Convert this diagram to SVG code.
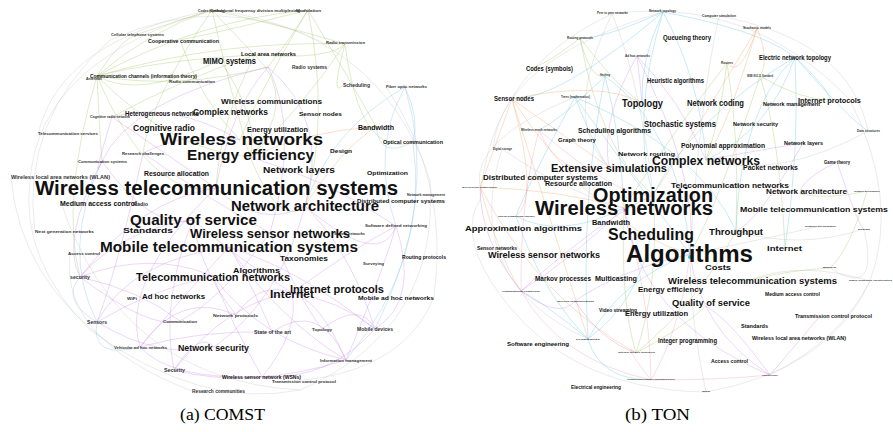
<svg xmlns="http://www.w3.org/2000/svg" width="893" height="432" viewBox="0 0 893 432">
<style>
text{font-family:"Liberation Sans",Arial,Helvetica,sans-serif;font-weight:bold;fill:#111}
.sm{fill:#333}
.cap{font-family:"Liberation Serif","Times New Roman",serif;font-weight:normal;fill:#000}
path{fill:none;stroke-width:0.6}
.h{stroke:#cfcfcf;stroke-opacity:.7}
.g{stroke:#9cc25a;stroke-opacity:.55}
.p{stroke:#c884e6;stroke-opacity:.55}
.b{stroke:#86c2e6;stroke-opacity:.6}
.o{stroke:#f0a060;stroke-opacity:.55}
.c{stroke:#46bde0;stroke-opacity:.5}
.k{stroke:#ee8aa8;stroke-opacity:.5}
.y{stroke:#b8b8b8;stroke-opacity:.5}
</style>
<rect width="893" height="432" fill="#fff"/>
<g id="connectors">
<!-- left hull -->
<path class="h" d="M30 180 Q40 60 212 10"/>
<path class="h" d="M212 10 Q380 30 430 180"/>
<path class="h" d="M430 180 Q440 330 300 390"/>
<path class="h" d="M300 390 Q200 410 90 330"/>
<path class="h" d="M90 330 Q20 260 30 180"/>
<path class="h" d="M38 134 Q60 40 212 10"/>
<path class="h" d="M35 232 Q20 120 110 40"/>
<path class="h" d="M70 254 Q60 340 192 391"/>
<path class="h" d="M110 40 Q220 -10 326 44"/>
<path class="h" d="M386 87 Q450 180 434 297"/>
<path class="h" d="M434 297 Q400 380 272 382"/>
<path class="h" d="M11 178 Q20 280 114 347"/>
<path class="h" d="M60 200 Q120 380 300 390"/>
<!-- left green -->
<path class="g" d="M97 76 Q150 30 212 10"/>
<path class="g" d="M97 76 Q160 60 255 55"/>
<path class="g" d="M97 76 Q180 90 268 67"/>
<path class="g" d="M97 76 Q200 20 308 10"/>
<path class="g" d="M97 76 Q220 40 345 44"/>
<path class="g" d="M97 76 Q120 40 138 34"/>
<path class="g" d="M97 76 Q140 100 220 60"/>
<path class="g" d="M97 76 Q170 150 250 157"/>
<path class="g" d="M97 76 Q150 200 216 188"/>
<path class="g" d="M97 76 Q60 200 80 277"/>
<path class="g" d="M212 10 Q240 40 255 55"/>
<path class="g" d="M212 10 Q300 30 345 44"/>
<path class="g" d="M212 10 Q230 90 250 157"/>
<path class="g" d="M308 10 Q290 40 268 67"/>
<path class="g" d="M308 10 Q350 80 376 127"/>
<path class="g" d="M308 10 Q260 90 240 140"/>
<path class="g" d="M255 55 Q300 100 250 157"/>
<path class="g" d="M255 55 Q180 80 112 117"/>
<path class="g" d="M255 55 Q330 60 345 44"/>
<path class="g" d="M255 55 Q220 120 216 188"/>
<path class="g" d="M345 44 Q330 100 343 85"/>
<path class="g" d="M345 44 Q360 160 413 142"/>
<path class="g" d="M345 44 Q300 110 250 157"/>
<path class="g" d="M180 40 Q230 30 308 10"/>
<path class="g" d="M180 40 Q200 100 240 140"/>
<path class="g" d="M220 60 Q260 120 250 157"/>
<path class="g" d="M138 34 Q180 20 212 10"/>
<path class="g" d="M250 157 Q280 230 305 206"/>
<path class="g" d="M212 10 Q150 100 143 153"/>
<path class="g" d="M308 10 Q330 120 305 206"/>
<path class="g" d="M97 76 Q100 140 102 161"/>
<!-- left purple -->
<path class="p" d="M268 67 Q330 120 305 206"/>
<path class="p" d="M112 117 Q170 100 240 140"/>
<path class="p" d="M112 117 Q160 150 216 188"/>
<path class="p" d="M112 117 Q90 190 102 161"/>
<path class="p" d="M143 153 Q190 130 240 140"/>
<path class="p" d="M143 153 Q210 200 270 233"/>
<path class="p" d="M102 161 Q150 230 193 220"/>
<path class="p" d="M102 161 Q130 100 268 67"/>
<path class="p" d="M80 277 Q150 250 213 276"/>
<path class="p" d="M80 277 Q150 330 180 321"/>
<path class="p" d="M80 277 Q140 200 216 188"/>
<path class="p" d="M97 322 Q150 290 213 276"/>
<path class="p" d="M97 322 Q160 360 214 347"/>
<path class="p" d="M140 347 Q180 300 229 247"/>
<path class="p" d="M140 347 Q170 380 262 377"/>
<path class="p" d="M140 347 Q200 330 272 332"/>
<path class="p" d="M174 370 Q200 330 214 347"/>
<path class="p" d="M174 370 Q230 300 292 293"/>
<path class="p" d="M174 370 Q250 390 346 360"/>
<path class="p" d="M346 360 Q320 300 292 293"/>
<path class="p" d="M346 360 Q280 320 229 247"/>
<path class="p" d="M375 329 Q340 300 292 293"/>
<path class="p" d="M375 329 Q350 250 305 206"/>
<path class="p" d="M375 329 Q330 380 262 377"/>
<path class="p" d="M322 329 Q300 300 270 233"/>
<path class="p" d="M396 226 Q350 250 292 293"/>
<path class="p" d="M396 226 Q330 180 250 157"/>
<path class="p" d="M396 226 Q420 300 375 329"/>
<path class="p" d="M236 315 Q260 280 292 293"/>
<path class="p" d="M236 315 Q200 270 193 220"/>
<path class="p" d="M180 321 Q220 300 270 233"/>
<path class="p" d="M262 377 Q230 320 213 276"/>
<path class="p" d="M272 332 Q250 280 229 247"/>
<path class="p" d="M268 67 Q230 110 216 188"/>
<path class="p" d="M268 67 Q300 130 270 233"/>
<path class="p" d="M193 220 Q240 260 292 293"/>
<path class="p" d="M216 188 Q260 230 305 206"/>
<path class="p" d="M229 247 Q300 270 375 329"/>
<path class="p" d="M213 276 Q260 340 346 360"/>
<path class="p" d="M305 206 Q380 270 396 226"/>
<path class="p" d="M80 277 Q120 230 193 220"/>
<path class="p" d="M97 322 Q130 260 229 247"/>
<path class="p" d="M140 347 Q120 280 216 188"/>
<path class="p" d="M174 370 Q160 300 193 220"/>
<path class="p" d="M262 377 Q300 330 292 293"/>
<path class="p" d="M346 360 Q380 280 396 226"/>
<path class="p" d="M322 329 Q360 300 375 329"/>
<path class="p" d="M236 315 Q180 290 140 347"/>
<path class="p" d="M180 321 Q140 290 80 277"/>
<path class="p" d="M272 332 Q320 300 346 360"/>
<path class="p" d="M214 347 Q280 300 305 206"/>
<path class="p" d="M102 161 Q60 240 80 277"/>
<path class="p" d="M143 153 Q120 260 97 322"/>
<!-- left blue / orange -->
<path class="b" d="M405 87 Q420 120 413 142"/>
<path class="b" d="M405 87 Q370 150 396 226"/>
<path class="b" d="M405 87 Q330 130 305 206"/>
<path class="b" d="M405 87 Q440 200 375 329"/>
<path class="b" d="M413 142 Q430 260 346 360"/>
<path class="b" d="M97 322 Q90 360 140 347"/>
<path class="b" d="M80 277 Q60 300 97 322"/>
<path class="b" d="M413 142 Q380 160 376 127"/>
<path class="b" d="M97 322 Q60 250 102 161"/>
<path class="o" d="M376 127 Q340 150 305 206"/>
<path class="o" d="M376 127 Q310 130 250 157"/>
<!-- right hull -->
<path class="h" d="M480 200 Q490 70 612 14"/>
<path class="h" d="M612 14 Q750 -5 850 100"/>
<path class="h" d="M850 100 Q900 200 870 281"/>
<path class="h" d="M870 281 Q830 370 706 392"/>
<path class="h" d="M706 392 Q560 390 490 280"/>
<path class="h" d="M490 280 Q460 230 480 200"/>
<path class="h" d="M493 150 Q500 60 663 12"/>
<path class="h" d="M719 16 Q850 40 868 131"/>
<path class="h" d="M502 149 Q460 280 588 339"/>
<path class="h" d="M575 97 Q470 140 480 187"/>
<path class="h" d="M870 281 Q840 340 770 375"/>
<path class="h" d="M864 229 Q880 300 830 268"/>
<!-- right cyan -->
<path class="c" d="M663 12 Q640 60 642 103"/>
<path class="c" d="M663 12 Q700 80 706 160"/>
<path class="c" d="M663 12 Q600 40 580 38"/>
<path class="c" d="M663 12 Q760 30 795 57"/>
<path class="c" d="M663 12 Q630 120 653 195"/>
<path class="c" d="M605 76 Q620 130 624 208"/>
<path class="c" d="M605 76 Q680 130 690 254"/>
<path class="c" d="M605 76 Q560 120 539 130"/>
<path class="c" d="M575 97 Q600 160 609 167"/>
<path class="c" d="M575 97 Q530 180 516 216"/>
<path class="c" d="M575 97 Q650 200 690 254"/>
<path class="c" d="M795 57 Q770 130 706 160"/>
<path class="c" d="M795 57 Q830 90 830 100"/>
<path class="c" d="M795 57 Q740 110 736 231"/>
<path class="c" d="M795 57 Q850 120 868 131"/>
<path class="c" d="M588 339 Q620 280 690 254"/>
<path class="c" d="M588 339 Q540 300 521 291"/>
<path class="c" d="M588 339 Q640 300 651 233"/>
<path class="c" d="M588 339 Q600 380 651 380"/>
<path class="c" d="M516 216 Q560 240 624 208"/>
<path class="c" d="M516 216 Q540 290 588 339"/>
<path class="c" d="M795 57 Q800 150 785 248"/>
<path class="c" d="M795 57 Q690 120 653 195"/>
<path class="c" d="M605 76 Q580 200 588 339"/>
<path class="c" d="M663 12 Q560 100 512 99"/>
<path class="c" d="M575 97 Q700 150 736 231"/>
<!-- right orange -->
<path class="o" d="M512 99 Q540 200 516 216"/>
<path class="o" d="M512 99 Q490 160 480 187"/>
<path class="o" d="M512 99 Q560 250 588 339"/>
<path class="o" d="M512 99 Q570 140 609 167"/>
<path class="o" d="M512 99 Q600 80 642 103"/>
<path class="o" d="M757 28 Q770 60 760 76"/>
<path class="o" d="M757 28 Q740 80 727 63"/>
<path class="o" d="M757 28 Q730 120 706 160"/>
<path class="o" d="M480 187 Q500 260 521 291"/>
<path class="o" d="M480 187 Q560 190 624 208"/>
<path class="o" d="M512 99 Q600 230 690 254"/>
<path class="o" d="M757 28 Q690 140 653 195"/>
<path class="o" d="M480 187 Q540 300 636 353"/>
<!-- right green -->
<path class="g" d="M580 38 Q590 80 605 76"/>
<path class="g" d="M580 38 Q620 90 642 103"/>
<path class="g" d="M580 38 Q540 70 526 68"/>
<path class="g" d="M727 63 Q720 120 706 160"/>
<path class="g" d="M727 63 Q740 140 736 231"/>
<path class="g" d="M760 76 Q780 140 785 248"/>
<path class="g" d="M760 76 Q800 100 830 100"/>
<path class="g" d="M636 353 Q620 300 624 208"/>
<path class="g" d="M636 353 Q680 330 706 306"/>
<path class="g" d="M636 353 Q700 300 736 231"/>
<path class="g" d="M830 268 Q790 270 750 280"/>
<path class="g" d="M867 191 Q830 200 800 194"/>
<path class="g" d="M867 191 Q850 250 830 268"/>
<path class="g" d="M580 38 Q600 150 653 195"/>
<path class="g" d="M727 63 Q660 150 624 208"/>
<path class="g" d="M760 76 Q720 200 690 254"/>
<path class="g" d="M636 353 Q660 280 653 195"/>
<!-- right purple -->
<path class="p" d="M637 56 Q640 80 642 103"/>
<path class="p" d="M637 56 Q680 100 706 160"/>
<path class="p" d="M637 56 Q600 120 609 167"/>
<path class="p" d="M521 291 Q570 260 624 208"/>
<path class="p" d="M521 291 Q560 320 575 301"/>
<path class="p" d="M521 291 Q480 240 480 187"/>
<path class="p" d="M575 301 Q620 270 690 254"/>
<path class="p" d="M575 301 Q600 340 636 353"/>
<path class="p" d="M770 375 Q730 320 706 306"/>
<path class="p" d="M770 375 Q800 340 820 316"/>
<path class="p" d="M770 375 Q700 330 690 254"/>
<path class="p" d="M803 143 Q760 150 706 160"/>
<path class="p" d="M837 162 Q800 180 800 194"/>
<path class="p" d="M837 162 Q860 230 864 229"/>
<path class="p" d="M637 56 Q700 180 690 254"/>
<path class="p" d="M521 291 Q600 220 653 195"/>
<path class="p" d="M803 143 Q760 220 736 231"/>
<path class="p" d="M770 375 Q640 320 624 208"/>
<!-- right pink / gray -->
<path class="k" d="M651 380 Q620 340 636 353"/>
<path class="k" d="M651 380 Q680 330 690 254"/>
<path class="k" d="M651 380 Q720 380 770 375"/>
<path class="k" d="M539 130 Q560 180 609 167"/>
<path class="k" d="M539 130 Q520 200 521 291"/>
<path class="k" d="M651 380 Q560 360 521 291"/>
<path class="k" d="M539 130 Q620 200 653 195"/>
<path class="k" d="M651 380 Q650 300 624 208"/>
<path class="y" d="M612 14 Q640 80 653 195"/>
<path class="y" d="M719 16 Q700 100 690 254"/>
<path class="y" d="M820 226 Q760 240 690 254"/>
<path class="y" d="M864 229 Q800 250 736 231"/>
<path class="y" d="M870 281 Q800 260 750 280"/>
<path class="y" d="M706 392 Q690 320 690 254"/>
<path class="y" d="M502 149 Q560 190 624 208"/>
<path class="y" d="M868 131 Q780 180 706 160"/>
<path class="y" d="M612 14 Q560 120 609 167"/>
</g>
<!-- LEFT PANEL NODES -->
<g id="a-codes"><text class="sm" x="198" y="11.5" font-size="4" textLength="27" lengthAdjust="spacingAndGlyphs">Codes (symbols)</text></g>
<g id="a-ofdm"><text class="sm" x="210" y="11.5" font-size="4" textLength="90" lengthAdjust="spacingAndGlyphs">Orthogonal frequency division multiplexing</text></g>
<g id="a-modulation"><text class="sm" x="296" y="11.5" font-size="4" textLength="25" lengthAdjust="spacingAndGlyphs">Modulation</text></g>
<g id="a-cellular"><text class="sm" x="111" y="36" font-size="4" textLength="53" lengthAdjust="spacingAndGlyphs">Cellular telephone systems</text></g>
<g id="a-coop"><text x="148" y="43" font-size="5.5" textLength="71" lengthAdjust="spacingAndGlyphs">Cooperative communication</text></g>
<g id="a-mimo"><text x="203" y="64" font-size="8.5" textLength="53" lengthAdjust="spacingAndGlyphs">MIMO systems</text></g>
<g id="a-lan"><text x="241" y="56" font-size="6" textLength="55" lengthAdjust="spacingAndGlyphs">Local area networks</text></g>
<g id="a-radiosys"><text class="sm" x="292" y="68.5" font-size="4.5" textLength="35" lengthAdjust="spacingAndGlyphs">Radio systems</text></g>
<g id="a-radiotx"><text class="sm" x="326" y="44" font-size="4" textLength="39" lengthAdjust="spacingAndGlyphs">Radio transmission</text></g>
<g id="a-commchan"><text x="90" y="77.5" font-size="5" textLength="107" lengthAdjust="spacingAndGlyphs">Communication channels (information theory)</text></g>
<g id="a-antennas"><text class="sm" x="86" y="79.5" font-size="4" textLength="16" lengthAdjust="spacingAndGlyphs">Antennas</text></g>
<g id="a-radiocomm"><text class="sm" x="169" y="82.5" font-size="4" textLength="46" lengthAdjust="spacingAndGlyphs">Radio communication</text></g>
<g id="a-scheduling"><text class="sm" x="343" y="86.5" font-size="4.5" textLength="27" lengthAdjust="spacingAndGlyphs">Scheduling</text></g>
<g id="a-fiber"><text class="sm" x="386" y="87.5" font-size="4" textLength="41" lengthAdjust="spacingAndGlyphs">Fiber optic networks</text></g>
<g id="a-wirelesscomm"><text x="221" y="104" font-size="8" textLength="101" lengthAdjust="spacingAndGlyphs">Wireless communications</text></g>
<g id="a-hetnet"><text x="125" y="115.5" font-size="7" textLength="74" lengthAdjust="spacingAndGlyphs">Heterogeneous networks</text></g>
<g id="a-complex"><text x="193" y="114.5" font-size="8.5" textLength="75" lengthAdjust="spacingAndGlyphs">Complex networks</text></g>
<g id="a-sensornodes"><text x="299" y="115.5" font-size="6" textLength="43" lengthAdjust="spacingAndGlyphs">Sensor nodes</text></g>
<g id="a-crn"><text class="sm" x="90" y="117.5" font-size="4" textLength="40" lengthAdjust="spacingAndGlyphs">Cognitive radio network</text></g>
<g id="a-telserv"><text class="sm" x="38" y="134.5" font-size="4" textLength="60" lengthAdjust="spacingAndGlyphs">Telecommunication services</text></g>
<g id="a-cogradio"><text x="133" y="131" font-size="8.5" textLength="62" lengthAdjust="spacingAndGlyphs">Cognitive radio</text></g>
<g id="a-energyutil"><text x="247" y="132" font-size="7" textLength="61" lengthAdjust="spacingAndGlyphs">Energy utilization</text></g>
<g id="a-bandwidth"><text x="358" y="130" font-size="7" textLength="36" lengthAdjust="spacingAndGlyphs">Bandwidth</text></g>
<g id="a-wirelessnet"><text x="160" y="145" font-size="16.5" textLength="163" lengthAdjust="spacingAndGlyphs">Wireless networks</text></g>
<g id="a-energyeff"><text x="187" y="159.5" font-size="14" textLength="127" lengthAdjust="spacingAndGlyphs">Energy efficiency</text></g>
<g id="a-design"><text x="330" y="153" font-size="5.5" textLength="22" lengthAdjust="spacingAndGlyphs">Design</text></g>
<g id="a-optcomm"><text x="383" y="144" font-size="5.5" textLength="60" lengthAdjust="spacingAndGlyphs">Optical communication</text></g>
<g id="a-netlayers"><text x="263" y="173" font-size="8.5" textLength="72" lengthAdjust="spacingAndGlyphs">Network layers</text></g>
<g id="a-optimization"><text x="367" y="175" font-size="5.5" textLength="41" lengthAdjust="spacingAndGlyphs">Optimization</text></g>
<g id="a-wts"><text x="35" y="195" font-size="20" textLength="363" lengthAdjust="spacingAndGlyphs">Wireless telecommunication systems</text></g>
<g id="a-netmgmt"><text class="sm" x="407" y="195.5" font-size="3.5" textLength="38" lengthAdjust="spacingAndGlyphs">Network management</text></g>
<g id="a-distcomp"><text x="357" y="203" font-size="5" textLength="88" lengthAdjust="spacingAndGlyphs">Distributed computer systems</text></g>
<g id="a-mac"><text x="60" y="205.5" font-size="6.5" textLength="77" lengthAdjust="spacingAndGlyphs">Medium access control</text></g>
<g id="a-radio"><text class="sm" x="133" y="205.5" font-size="4.5" textLength="15" lengthAdjust="spacingAndGlyphs">Radio</text></g>
<g id="a-netarch"><text x="231" y="211" font-size="14.5" textLength="148" lengthAdjust="spacingAndGlyphs">Network architecture</text></g>
<g id="a-resalloc"><text x="144" y="176" font-size="6.5" textLength="65" lengthAdjust="spacingAndGlyphs">Resource allocation</text></g>
<g id="a-research"><text class="sm" x="122" y="154.5" font-size="4" textLength="42" lengthAdjust="spacingAndGlyphs">Research challenges</text></g>
<g id="a-commsys"><text class="sm" x="78" y="162.5" font-size="4" textLength="49" lengthAdjust="spacingAndGlyphs">Communication systems</text></g>
<g id="a-wlan"><text class="sm" x="11" y="178.5" font-size="4.5" textLength="99" lengthAdjust="spacingAndGlyphs">Wireless local area networks (WLAN)</text></g>
<g id="a-qos"><text x="130" y="225" font-size="15" textLength="127" lengthAdjust="spacingAndGlyphs">Quality of service</text></g>
<g id="a-standards"><text x="123" y="233" font-size="8" textLength="50" lengthAdjust="spacingAndGlyphs">Standards</text></g>
<g id="a-sensornets"><text class="sm" x="334" y="234.5" font-size="3.5" textLength="31" lengthAdjust="spacingAndGlyphs">Sensor networks</text></g>
<g id="a-wsn"><text x="190" y="238" font-size="12" textLength="160" lengthAdjust="spacingAndGlyphs">Wireless sensor networks</text></g>
<g id="a-sdn"><text class="sm" x="365" y="226.5" font-size="3.5" textLength="62" lengthAdjust="spacingAndGlyphs">Software defined networking</text></g>
<g id="a-nextgen"><text class="sm" x="35" y="232.5" font-size="4" textLength="59" lengthAdjust="spacingAndGlyphs">Next generation networks</text></g>
<g id="a-mts"><text x="100" y="252" font-size="15" textLength="258" lengthAdjust="spacingAndGlyphs">Mobile telecommunication systems</text></g>
<g id="a-access"><text class="sm" x="68" y="254.5" font-size="4" textLength="32" lengthAdjust="spacingAndGlyphs">Access control</text></g>
<g id="a-taxonomies"><text x="280" y="261" font-size="7" textLength="48" lengthAdjust="spacingAndGlyphs">Taxonomies</text></g>
<g id="a-surveying"><text class="sm" x="363" y="264.5" font-size="3.5" textLength="21" lengthAdjust="spacingAndGlyphs">Surveying</text></g>
<g id="a-routing"><text x="402" y="258.5" font-size="5.5" textLength="44" lengthAdjust="spacingAndGlyphs">Routing protocols</text></g>
<g id="a-algorithms"><text x="233" y="273" font-size="8" textLength="47" lengthAdjust="spacingAndGlyphs">Algorithms</text></g>
<g id="a-telnet"><text x="136" y="281" font-size="11" textLength="154" lengthAdjust="spacingAndGlyphs">Telecommunication networks</text></g>
<g id="a-security-l"><text class="sm" x="70" y="278.5" font-size="4.5" textLength="20" lengthAdjust="spacingAndGlyphs">security</text></g>
<g id="a-inetproto"><text x="290" y="293" font-size="11.5" textLength="94" lengthAdjust="spacingAndGlyphs">Internet protocols</text></g>
<g id="a-internet"><text x="270" y="298" font-size="11.5" textLength="44" lengthAdjust="spacingAndGlyphs">Internet</text></g>
<g id="a-manet"><text x="358" y="299.5" font-size="6" textLength="76" lengthAdjust="spacingAndGlyphs">Mobile ad hoc networks</text></g>
<g id="a-wifi"><text class="sm" x="127" y="299.5" font-size="4" textLength="10" lengthAdjust="spacingAndGlyphs">WiFi</text></g>
<g id="a-adhoc"><text x="142" y="298.5" font-size="8" textLength="63" lengthAdjust="spacingAndGlyphs">Ad hoc networks</text></g>
<g id="a-netproto"><text class="sm" x="213" y="316.5" font-size="4" textLength="45" lengthAdjust="spacingAndGlyphs">Network protocols</text></g>
<g id="a-communication"><text class="sm" x="163" y="322.5" font-size="4" textLength="34" lengthAdjust="spacingAndGlyphs">Communication</text></g>
<g id="a-sensors"><text class="sm" x="87" y="323.5" font-size="4.5" textLength="20" lengthAdjust="spacingAndGlyphs">Sensors</text></g>
<g id="a-stateart"><text class="sm" x="254" y="333.5" font-size="4.5" textLength="37" lengthAdjust="spacingAndGlyphs">State of the art</text></g>
<g id="a-topology"><text class="sm" x="312" y="330.5" font-size="3.5" textLength="20" lengthAdjust="spacingAndGlyphs">Topology</text></g>
<g id="a-mobiledev"><text class="sm" x="357" y="330.5" font-size="4.5" textLength="36" lengthAdjust="spacingAndGlyphs">Mobile devices</text></g>
<g id="a-vanet"><text class="sm" x="114" y="348.5" font-size="4" textLength="53" lengthAdjust="spacingAndGlyphs">Vehicular ad hoc networks</text></g>
<g id="a-netsec"><text x="178" y="350.5" font-size="8.5" textLength="71" lengthAdjust="spacingAndGlyphs">Network security</text></g>
<g id="a-infomgmt"><text class="sm" x="320" y="361.5" font-size="3.5" textLength="52" lengthAdjust="spacingAndGlyphs">Information management</text></g>
<g id="a-security-b"><text class="sm" x="164" y="372" font-size="4.5" textLength="21" lengthAdjust="spacingAndGlyphs">Security</text></g>
<g id="a-wsns"><text x="222" y="378.5" font-size="4.5" textLength="79" lengthAdjust="spacingAndGlyphs">Wireless sensor network (WSNs)</text></g>
<g id="a-tcp"><text class="sm" x="272" y="382.5" font-size="4" textLength="64" lengthAdjust="spacingAndGlyphs">Transmission control protocol</text></g>
<g id="a-rescomm"><text class="sm" x="192" y="393" font-size="4.5" textLength="53" lengthAdjust="spacingAndGlyphs">Research communities</text></g>
<!-- RIGHT PANEL NODES -->
<g id="b-p2p"><text class="sm" x="597" y="14" font-size="3" textLength="31" lengthAdjust="spacingAndGlyphs">Peer to peer networks</text></g>
<g id="b-nettopo"><text class="sm" x="649" y="12" font-size="3" textLength="27" lengthAdjust="spacingAndGlyphs">Network topology</text></g>
<g id="b-compsim"><text class="sm" x="702" y="17" font-size="3" textLength="34" lengthAdjust="spacingAndGlyphs">Computer simulation</text></g>
<g id="b-stochmod"><text class="sm" x="743" y="29" font-size="3" textLength="28" lengthAdjust="spacingAndGlyphs">Stochastic models</text></g>
<g id="b-queue"><text x="663" y="39.5" font-size="7" textLength="48" lengthAdjust="spacingAndGlyphs">Queueing theory</text></g>
<g id="b-routing"><text class="sm" x="567" y="39" font-size="3" textLength="26" lengthAdjust="spacingAndGlyphs">Routing protocols</text></g>
<g id="b-codes"><text x="526" y="70.5" font-size="6.5" textLength="47" lengthAdjust="spacingAndGlyphs">Codes (symbols)</text></g>
<g id="b-adhoc"><text class="sm" x="625" y="57" font-size="3" textLength="25" lengthAdjust="spacingAndGlyphs">Ad hoc networks</text></g>
<g id="b-heuristic"><text x="647" y="82.5" font-size="6.5" textLength="57" lengthAdjust="spacingAndGlyphs">Heuristic algorithms</text></g>
<g id="b-electric"><text x="759" y="59.5" font-size="6.5" textLength="72" lengthAdjust="spacingAndGlyphs">Electric network topology</text></g>
<g id="b-routers"><text class="sm" x="721" y="64" font-size="3" textLength="12" lengthAdjust="spacingAndGlyphs">Routers</text></g>
<g id="b-ieee"><text class="sm" x="747" y="77" font-size="3" textLength="26" lengthAdjust="spacingAndGlyphs">IEEE 802.11 Standard</text></g>
<g id="b-hashing"><text class="sm" x="600" y="76" font-size="3" textLength="10" lengthAdjust="spacingAndGlyphs">Hashing</text></g>
<g id="b-sensornodes"><text x="494" y="100.5" font-size="6.5" textLength="40" lengthAdjust="spacingAndGlyphs">Sensor nodes</text></g>
<g id="b-trees"><text class="sm" x="561" y="98" font-size="3" textLength="29" lengthAdjust="spacingAndGlyphs">Trees (mathematics)</text></g>
<g id="b-topology"><text x="622" y="106.5" font-size="11" textLength="41" lengthAdjust="spacingAndGlyphs">Topology</text></g>
<g id="b-netcoding"><text x="687" y="105.5" font-size="9" textLength="57" lengthAdjust="spacingAndGlyphs">Network coding</text></g>
<g id="b-inetproto"><text x="798" y="102.5" font-size="8" textLength="63" lengthAdjust="spacingAndGlyphs">Internet protocols</text></g>
<g id="b-netmgmt"><text x="763" y="106" font-size="5.5" textLength="57" lengthAdjust="spacingAndGlyphs">Network management</text></g>
<g id="b-stochsys"><text x="644" y="127" font-size="9" textLength="72" lengthAdjust="spacingAndGlyphs">Stochastic systems</text></g>
<g id="b-netsec"><text x="733" y="125.5" font-size="5.5" textLength="45" lengthAdjust="spacingAndGlyphs">Network security</text></g>
<g id="b-datastruct"><text class="sm" x="857" y="132" font-size="3" textLength="23" lengthAdjust="spacingAndGlyphs">Data structures</text></g>
<g id="b-mesh"><text class="sm" x="521" y="131" font-size="3" textLength="36" lengthAdjust="spacingAndGlyphs">Wireless mesh networks</text></g>
<g id="b-schedalg"><text x="578" y="133" font-size="7" textLength="73" lengthAdjust="spacingAndGlyphs">Scheduling algorithms</text></g>
<g id="b-graph"><text x="558" y="142" font-size="5.5" textLength="38" lengthAdjust="spacingAndGlyphs">Graph theory</text></g>
<g id="b-digital"><text class="sm" x="493" y="150" font-size="3" textLength="19" lengthAdjust="spacingAndGlyphs">Digital storage</text></g>
<g id="b-netrouting"><text x="618" y="155.5" font-size="6" textLength="57" lengthAdjust="spacingAndGlyphs">Network routing</text></g>
<g id="b-polyapprox"><text x="681" y="147.5" font-size="6.5" textLength="84" lengthAdjust="spacingAndGlyphs">Polynomial approximation</text></g>
<g id="b-netlayers"><text x="784" y="145" font-size="5" textLength="39" lengthAdjust="spacingAndGlyphs">Network layers</text></g>
<g id="b-game"><text x="824" y="164" font-size="5" textLength="26" lengthAdjust="spacingAndGlyphs">Game theory</text></g>
<g id="b-complex"><text x="652" y="165" font-size="12.5" textLength="108" lengthAdjust="spacingAndGlyphs">Complex networks</text></g>
<g id="b-packet"><text x="743" y="170" font-size="6.5" textLength="55" lengthAdjust="spacingAndGlyphs">Packet networks</text></g>
<g id="b-extsim"><text x="551" y="172" font-size="11.5" textLength="116" lengthAdjust="spacingAndGlyphs">Extensive simulations</text></g>
<g id="b-distcomp"><text x="483" y="180" font-size="8" textLength="115" lengthAdjust="spacingAndGlyphs">Distributed computer systems</text></g>
<g id="b-resalloc"><text x="545" y="185.5" font-size="7" textLength="67" lengthAdjust="spacingAndGlyphs">Resource allocation</text></g>
<g id="b-telnet"><text x="671" y="187.5" font-size="7.5" textLength="118" lengthAdjust="spacingAndGlyphs">Telecommunication networks</text></g>
<g id="b-netarch"><text x="766" y="194" font-size="7" textLength="81" lengthAdjust="spacingAndGlyphs">Network architecture</text></g>
<g id="b-wsns"><text class="sm" x="462" y="188" font-size="2.5" textLength="35" lengthAdjust="spacingAndGlyphs">Wireless sensor network (WSNs)</text></g>
<g id="b-netperf2"><text class="sm" x="854" y="192" font-size="2.5" textLength="26" lengthAdjust="spacingAndGlyphs">Network performance</text></g>
<g id="b-optimization"><text x="593" y="202" font-size="20.5" textLength="120" lengthAdjust="spacingAndGlyphs">Optimization</text></g>
<g id="b-wirelessnet"><circle cx="625" cy="210" r="1.5" fill="#b070e0"/><text x="535" y="215" font-size="20" textLength="178" lengthAdjust="spacingAndGlyphs">Wireless networks</text></g>
<g id="b-mts"><text x="740" y="211.5" font-size="7.5" textLength="148" lengthAdjust="spacingAndGlyphs">Mobile telecommunication systems</text></g>
<g id="b-social"><text class="sm" x="498" y="216.5" font-size="2.5" textLength="37" lengthAdjust="spacingAndGlyphs">Social networking (online)</text></g>
<g id="b-approx"><text x="465" y="231" font-size="8" textLength="117" lengthAdjust="spacingAndGlyphs">Approximation algorithms</text></g>
<g id="b-bandwidth"><text x="592" y="224.5" font-size="6.5" textLength="38" lengthAdjust="spacingAndGlyphs">Bandwidth</text></g>
<g id="b-scheduling"><text x="608" y="240" font-size="16" textLength="86" lengthAdjust="spacingAndGlyphs">Scheduling</text></g>
<g id="b-throughput"><text x="709" y="235" font-size="8.5" textLength="54" lengthAdjust="spacingAndGlyphs">Throughput</text></g>
<g id="b-netperf"><text class="sm" x="805" y="226.5" font-size="2.5" textLength="31" lengthAdjust="spacingAndGlyphs">Network performance</text></g>
<g id="b-design"><text class="sm" x="858" y="230" font-size="2.5" textLength="12" lengthAdjust="spacingAndGlyphs">Design</text></g>
<g id="b-sensornets"><text x="477" y="249.5" font-size="4.5" textLength="40" lengthAdjust="spacingAndGlyphs">Sensor networks</text></g>
<g id="b-wsn"><text x="488" y="258" font-size="8.5" textLength="112" lengthAdjust="spacingAndGlyphs">Wireless sensor networks</text></g>
<g id="b-algorithms"><circle cx="690" cy="257" r="2" fill="#3bb8e0"/><text x="626" y="262" font-size="23.5" textLength="127" lengthAdjust="spacingAndGlyphs">Algorithms</text></g>
<g id="b-internet"><text x="767" y="251" font-size="7.5" textLength="35" lengthAdjust="spacingAndGlyphs">Internet</text></g>
<g id="b-costs"><text x="705" y="269.5" font-size="7" textLength="26" lengthAdjust="spacingAndGlyphs">Costs</text></g>
<g id="b-wts"><text x="668" y="283.5" font-size="8.5" textLength="169" lengthAdjust="spacingAndGlyphs">Wireless telecommunication systems</text></g>
<g id="b-rfid"><text class="sm" x="849" y="281" font-size="2.5" textLength="43" lengthAdjust="spacingAndGlyphs">Radio frequency identification</text></g>
<g id="b-buffers"><text class="sm" x="823" y="268" font-size="2.5" textLength="13" lengthAdjust="spacingAndGlyphs">Buffers</text></g>
<g id="b-markov"><text x="535" y="280.5" font-size="6.5" textLength="56" lengthAdjust="spacingAndGlyphs">Markov processes</text></g>
<g id="b-multicast"><text x="595" y="281" font-size="7.5" textLength="42" lengthAdjust="spacingAndGlyphs">Multicasting</text></g>
<g id="b-energyeff"><text x="638" y="292" font-size="7.5" textLength="65" lengthAdjust="spacingAndGlyphs">Energy efficiency</text></g>
<g id="b-compcomplex"><text class="sm" x="502" y="291.5" font-size="2.5" textLength="38" lengthAdjust="spacingAndGlyphs">Computational complexity</text></g>
<g id="b-wirelesscomm"><text class="sm" x="557" y="301.5" font-size="2.5" textLength="37" lengthAdjust="spacingAndGlyphs">Wireless communications</text></g>
<g id="b-mac"><text x="765" y="296" font-size="5.5" textLength="55" lengthAdjust="spacingAndGlyphs">Medium access control</text></g>
<g id="b-qos"><text x="672" y="306" font-size="9" textLength="78" lengthAdjust="spacingAndGlyphs">Quality of service</text></g>
<g id="b-video"><text x="599" y="312" font-size="5.5" textLength="38" lengthAdjust="spacingAndGlyphs">Video streaming</text></g>
<g id="b-energyutil"><text x="625" y="316" font-size="8" textLength="63" lengthAdjust="spacingAndGlyphs">Energy utilization</text></g>
<g id="b-tcp"><text x="795" y="318" font-size="5.5" textLength="77" lengthAdjust="spacingAndGlyphs">Transmission control protocol</text></g>
<g id="b-standards"><text x="741" y="328" font-size="5" textLength="27" lengthAdjust="spacingAndGlyphs">Standards</text></g>
<g id="b-softeng"><text x="507" y="345.5" font-size="6" textLength="62" lengthAdjust="spacingAndGlyphs">Software engineering</text></g>
<g id="b-probability"><text class="sm" x="576" y="340" font-size="2.5" textLength="24" lengthAdjust="spacingAndGlyphs">Probability</text></g>
<g id="b-intprog"><text x="658" y="342.5" font-size="6.5" textLength="59" lengthAdjust="spacingAndGlyphs">Integer programming</text></g>
<g id="b-wlan"><text x="752" y="340" font-size="5.5" textLength="94" lengthAdjust="spacingAndGlyphs">Wireless local area networks (WLAN)</text></g>
<g id="b-isp"><text class="sm" x="618" y="353" font-size="2.5" textLength="37" lengthAdjust="spacingAndGlyphs">Internet service providers</text></g>
<g id="b-access"><text x="711" y="362.5" font-size="5.5" textLength="37" lengthAdjust="spacingAndGlyphs">Access control</text></g>
<g id="b-conference"><text class="sm" x="762" y="376" font-size="2.5" textLength="16" lengthAdjust="spacingAndGlyphs">Conference</text></g>
<g id="b-commchan"><text class="sm" x="627" y="380" font-size="2.5" textLength="48" lengthAdjust="spacingAndGlyphs">Communication channels (information theory)</text></g>
<g id="b-electrical"><text x="571" y="388.5" font-size="5.5" textLength="50" lengthAdjust="spacingAndGlyphs">Electrical engineering</text></g>
<g id="b-ieee2"><text class="sm" x="702" y="392" font-size="2.5" textLength="8" lengthAdjust="spacingAndGlyphs">IEEE</text></g>
<!-- captions -->
<g id="caption-a"><text class="cap" x="180" y="420" font-size="16" textLength="85" lengthAdjust="spacingAndGlyphs">(a) COMST</text></g>
<g id="caption-b"><text class="cap" x="625" y="420" font-size="16" textLength="65" lengthAdjust="spacingAndGlyphs">(b) TON</text></g>
</svg>
